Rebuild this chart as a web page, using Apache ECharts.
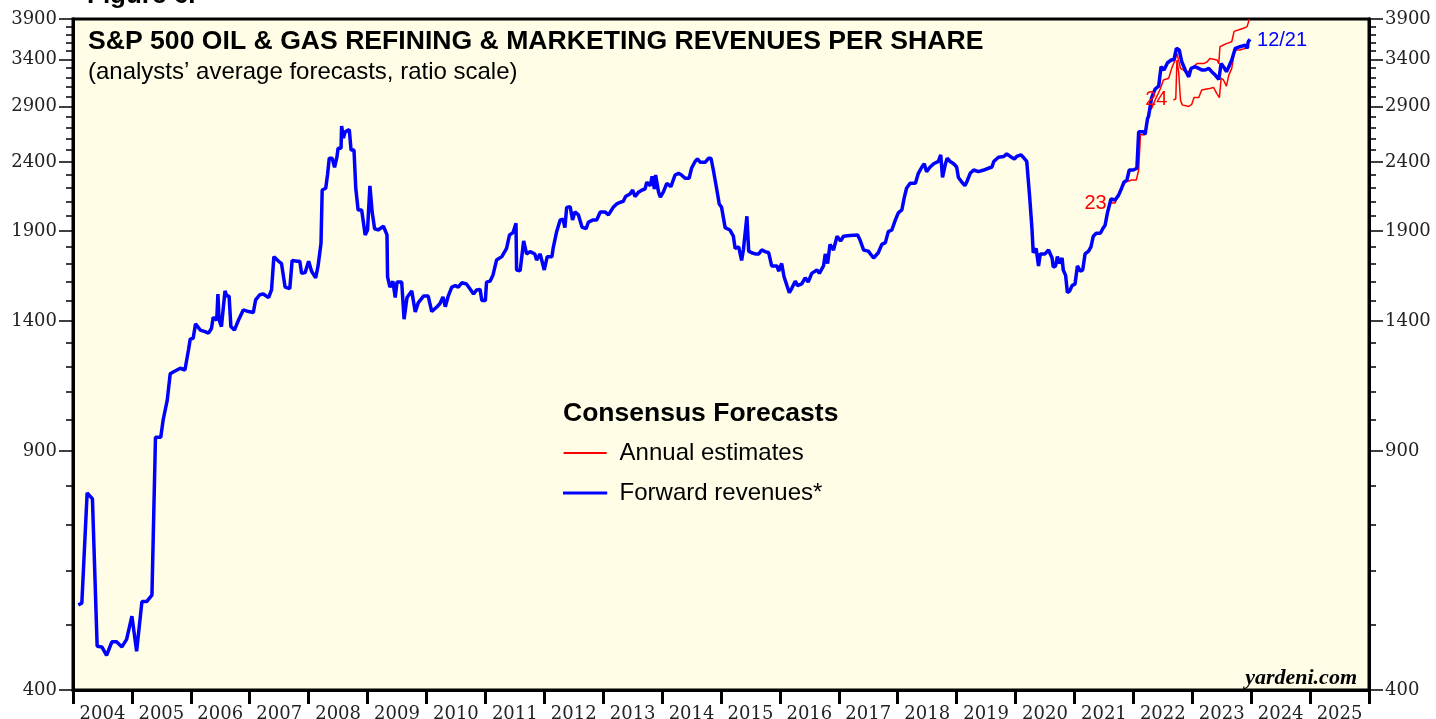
<!DOCTYPE html>
<html lang="en">
<head>
<meta charset="UTF-8">
<title>S&P 500 Oil & Gas Refining & Marketing Revenues Per Share</title>
<script src="https://cdn.jsdelivr.net/npm/echarts@6.0.0/dist/echarts.min.js"></script>
<style>
  html, body { margin: 0; padding: 0; background: #fff; }
  #main { width: 1436px; height: 719px; }
</style>
</head>
<body>
<div id="main"></div>
<script>
// forward revenues (weekly-ish), x = decimal year
var fwdYears = [2004.09,2004.15,2004.24,2004.33,2004.41,2004.49,2004.57,2004.66,2004.74,2004.83,2004.91,2005.00,2005.08,2005.17,2005.25,2005.34,2005.40,2005.49,2005.53,2005.60,2005.65,2005.71,2005.82,2005.90,2005.96,2005.99,
  2006.04,2006.08,2006.16,2006.24,2006.30,2006.35,2006.38,2006.44,2006.46,2006.48,2006.52,2006.58,2006.61,2006.65,2006.68,2006.74,2006.81,2006.89,2006.98,
  2007.06,2007.10,2007.17,2007.23,2007.32,2007.37,2007.41,2007.49,2007.54,2007.60,2007.68,2007.72,2007.80,2007.85,2007.88,2007.94,
  2008.00,2008.05,2008.12,2008.16,2008.21,2008.23,2008.29,2008.32,2008.35,2008.40,2008.44,2008.48,2008.50,2008.55,2008.56,2008.59,2008.62,2008.69,2008.72,2008.77,2008.80,2008.84,2008.90,2008.96,
  2009.00,2009.04,2009.08,2009.12,2009.18,2009.27,2009.33,2009.34,2009.38,2009.43,2009.47,2009.50,2009.58,2009.62,2009.67,2009.75,2009.81,2009.86,2009.95,
  2010.03,2010.09,2010.18,2010.23,2010.28,2010.32,2010.37,2010.43,2010.49,2010.54,2010.60,2010.68,2010.80,2010.85,2010.91,2010.94,
  2011.00,2011.02,2011.08,2011.13,2011.19,2011.28,2011.36,2011.41,2011.47,2011.52,2011.53,2011.59,2011.65,2011.70,2011.76,2011.84,2011.87,2011.93,
  2012.00,2012.05,2012.13,2012.15,2012.21,2012.27,2012.32,2012.35,2012.38,2012.44,2012.48,2012.52,2012.58,2012.64,2012.71,2012.75,2012.83,2012.89,2012.95,
  2013.03,2013.09,2013.17,2013.23,2013.29,2013.34,2013.38,2013.46,2013.50,2013.54,2013.60,2013.66,2013.71,2013.74,2013.80,2013.83,2013.87,2013.89,2013.94,2013.97,
  2014.02,2014.08,2014.15,2014.22,2014.28,2014.33,2014.39,2014.46,2014.50,2014.56,2014.60,2014.65,2014.73,2014.79,2014.83,2014.87,2014.93,2014.97,
  2015.01,2015.07,2015.15,2015.21,2015.24,2015.30,2015.35,2015.38,2015.41,2015.44,2015.47,2015.52,2015.58,2015.64,2015.69,2015.75,2015.81,2015.86,2015.95,2015.98,
  2016.03,2016.07,2016.12,2016.16,2016.20,2016.26,2016.30,2016.37,2016.43,2016.48,2016.54,2016.63,2016.67,2016.74,2016.77,2016.81,2016.85,2016.91,2016.97,
  2017.03,2017.08,2017.19,2017.32,2017.36,2017.42,2017.50,2017.59,2017.67,2017.73,2017.79,2017.84,2017.90,2017.96,
  2018.01,2018.07,2018.11,2018.15,2018.21,2018.30,2018.35,2018.41,2018.45,2018.49,2018.55,2018.61,2018.69,2018.73,2018.76,2018.81,2018.84,2018.89,2018.95,
  2019.00,2019.03,2019.09,2019.14,2019.17,2019.23,2019.29,2019.37,2019.46,2019.54,2019.60,2019.63,2019.71,2019.80,2019.85,2019.91,2019.98,
  2020.02,2020.09,2020.13,2020.19,2020.24,2020.28,2020.30,2020.35,2020.39,2020.42,2020.50,2020.56,2020.62,2020.64,2020.68,2020.71,2020.75,2020.79,2020.81,2020.85,2020.88,2020.92,2020.96,
  2021.01,2021.05,2021.10,2021.14,2021.18,2021.24,2021.28,2021.32,2021.37,2021.44,2021.48,2021.52,2021.56,2021.62,2021.69,2021.75,2021.80,2021.84,2021.89,2021.93,
  2022.00,2022.06,2022.09,2022.17,2022.20,2022.24,2022.26,2022.31,2022.37,2022.43,2022.47,2022.52,2022.58,2022.64,2022.69,2022.73,2022.78,2022.82,2022.88,2022.94,2022.98,
  2023.05,2023.11,2023.16,2023.22,2023.28,2023.33,2023.39,2023.45,2023.49,2023.53,2023.58,2023.62,2023.67,2023.73,2023.81,2023.90,2023.93,2023.95,2023.98];
var fwdRevenues = [534,537,781,765,464,463,450,471,471,463,475,514,456,540,540,552,943,943,1000,1070,1170,1178,1192,1185,1268,1316,
  1320,1386,1357,1350,1343,1364,1417,1404,1533,1404,1373,1550,1523,1523,1373,1357,1404,1453,1445,
  1440,1503,1530,1534,1515,1555,1741,1714,1700,1570,1562,1719,1714,1714,1645,1649,
  1714,1657,1620,1687,1822,2183,2196,2297,2431,2431,2358,2440,2515,2515,2713,2605,2660,2680,2500,2500,2196,2040,2040,1874,
  1906,2213,2020,1914,1906,1930,1874,1626,1570,1602,1515,1597,1597,1408,1515,1550,1443,1488,1523,
  1523,1445,1469,1485,1519,1469,1523,1570,1578,1570,1593,1587,1534,1555,1558,1500,
  1500,1597,1602,1636,1721,1741,1790,1874,1889,1950,1664,1660,1836,1757,1771,1757,1721,1757,
  1664,1741,1741,1790,1895,1972,1976,1921,2058,2062,1972,2026,2006,1925,1914,1958,1972,1972,2026,
  2026,2006,2058,2082,2094,2100,2135,2155,2183,2135,2167,2183,2190,2241,2215,2286,2190,2297,2167,2130,
  2167,2233,2208,2297,2310,2297,2272,2272,2350,2405,2425,2398,2398,2431,2431,2336,2183,2082,
  2058,1921,1906,1866,1790,1800,1719,1781,1781,1997,1774,1764,1757,1757,1781,1771,1764,1687,1687,1657,
  1701,1626,1578,1541,1562,1602,1578,1587,1620,1597,1645,1664,1645,1687,1757,1701,1815,1781,1866,
  1836,1866,1870,1874,1842,1781,1774,1733,1764,1815,1826,1895,1906,1972,
  2020,2040,2125,2196,2233,2233,2310,2360,2386,2323,2360,2386,2405,2460,2278,2386,2431,2405,2386,
  2360,2278,2241,2215,2241,2310,2336,2323,2336,2350,2360,2405,2440,2446,2468,2446,2425,
  2446,2460,2440,2405,2130,1906,1764,1790,1687,1757,1757,1781,1733,1680,1687,1741,1701,1733,1664,1634,1541,1550,1578,
  1587,1687,1657,1664,1757,1774,1800,1866,1885,1885,1914,1937,2020,2117,2110,2145,2196,2241,2258,2336,
  2336,2350,2660,2660,2637,2780,2808,2987,3075,3106,3317,3280,3362,3393,3400,3530,3510,3376,3280,3205,3298,
  3317,3298,3280,3280,3298,3262,3224,3177,3352,3317,3262,3317,3393,3530,3550,3570,3530,3610,3640];

// annual estimates for 2023 and 2024
var est23Years = [2021.58,2021.69,2021.78,2021.86,2021.97,2022.05,2022.09,2022.12,2022.20,2022.26,2022.31,2022.37,2022.46,2022.51,2022.60,2022.65,2022.71,2022.74,2022.80,2022.85,2022.91,2022.99,
  2023.08,2023.19,2023.25,2023.30,2023.42,2023.45,2023.47,2023.53,2023.59,2023.67,2023.71,2023.78,2023.87,2023.93,2023.97];
var est23Values = [2088,2088,2183,2241,2258,2258,2336,2634,2634,2848,2880,2963,3080,3171,3190,3298,3393,3470,3298,3280,3243,3298,
  3352,3352,3370,3410,3393,3352,3550,3570,3590,3610,3740,3757,3780,3800,3900];
var est24Years = [2022.68,2022.72,2022.74,2022.77,2022.80,2022.83,2022.94,2022.99,2023.03,2023.11,2023.16,2023.22,2023.30,2023.36,2023.42,2023.46,2023.49,2023.53,2023.58,2023.62,2023.67,2023.72,2023.81,2023.90,2023.97];
var est24Values = [2963,2975,3393,3250,2960,2914,2898,2918,2987,2987,3065,3072,3080,3092,3025,2987,3190,3171,3106,3224,3298,3510,3510,3530,3550];

var yearTicks = [2004,2005,2006,2007,2008,2009,2010,2011,2012,2013,2014,2015,2016,2017,2018,2019,2020,2021,2022,2023,2024,2025,2026];
var yearLabels = [2004,2005,2006,2007,2008,2009,2010,2011,2012,2013,2014,2015,2016,2017,2018,2019,2020,2021,2022,2023,2024,2025];
var majorTicks = [400,900,1400,1900,2400,2900,3400,3900];
var minorTicks = [400,500,600,700,800,900,1000,1100,1200,1300,1400,1500,1600,1700,1800,1900,2000,2100,2200,2300,2400,
  2500,2600,2700,2800,2900,3000,3100,3200,3300,3400,3500,3600,3700,3800,3900];

function zip(xs, ys) {
  var out = []
  for (var i = 0; i < xs.length; i++) out.push([xs[i], ys[i]])
  return out
}

var sans = 'Liberation Sans, Arial, sans-serif'
var serif = 'DejaVu Serif, serif'

function yAx(pos, ticks, len, labels) {
  return {
    type: 'log', min: 400, max: 3900, position: pos,
    axisLine: {show: true, lineStyle: {color: '#000', width: 3}},
    axisTick: {show: true, length: len, customValues: ticks, lineStyle: {color: '#000', width: 1.5}},
    axisLabel: {
      show: labels, customValues: majorTicks, margin: 16, color: '#222', fontSize: 18, fontFamily: serif,
      formatter: function (v) { return String(Math.round(v)) }
    },
    splitLine: {show: false}
  }
}

var mCharts = echarts.init(document.getElementById('main'))
var option = {
  animation: false,
  backgroundColor: '#fff',
  title: {
    left: 88, top: 28, padding: 0, itemGap: 5,
    text: 'S&P 500 OIL & GAS REFINING & MARKETING REVENUES PER SHARE',
    textStyle: {fontSize: 26.6, fontWeight: 'bold', fontFamily: sans, color: '#000'},
    subtext: '(analysts’ average forecasts, ratio scale)',
    subtextStyle: {fontSize: 24, fontFamily: sans, color: '#000'}
  },
  legend: {
    left: 563, top: 441, padding: 0, orient: 'vertical', selectedMode: false,
    itemWidth: 43, itemHeight: 2, itemGap: 16,
    textStyle: {fontSize: 24, fontFamily: sans, color: '#000', padding: [0, 0, 0, 8]},
    data: [
      {name: 'Annual estimates', icon: 'rect', itemStyle: {color: '#ff0000', borderWidth: 0}},
      {name: 'Forward revenues*', icon: 'rect', itemStyle: {color: '#0000ff', borderColor: '#0000ff', borderWidth: 1.2}}
    ]
  },
  graphic: [
    {type: 'text', left: 87, top: -17, style: {text: 'Figure 6.', font: 'bold 26px ' + sans, fill: '#000'}},
    {type: 'text', left: 563, top: 400, style: {text: 'Consensus Forecasts', font: 'bold 26.5px ' + sans, fill: '#000'}},
    {type: 'text', right: 79, top: 667, style: {text: 'yardeni.com', font: 'italic bold 22px Liberation Serif, serif', fill: '#000'}}
  ],
  grid: {
    left: 73, right: 67, top: 19, bottom: 29, outerBoundsMode: 'none',
    show: true, backgroundColor: '#fffde6', borderColor: '#000', borderWidth: 3
  },
  xAxis: [
    {
      type: 'value', min: 2004, max: 2026, position: 'bottom',
      axisLine: {show: true, onZero: false, lineStyle: {color: '#000', width: 3}},
      axisTick: {show: true, length: 14, customValues: yearTicks, lineStyle: {color: '#000', width: 3}},
      axisLabel: {show: false},
      splitLine: {show: false}
    },
    {
      type: 'value', min: 2004, max: 2026, position: 'bottom',
      axisLine: {show: false}, axisTick: {show: false}, splitLine: {show: false},
      axisLabel: {
        customValues: yearLabels.map(function (y) { return y + 0.5 }),
        formatter: function (v) { return String(Math.floor(v)) },
        margin: 15, color: '#222', fontSize: 18, fontFamily: serif
      }
    }
  ],
  yAxis: [
    yAx('left', majorTicks, 14, true),
    yAx('left', minorTicks, 7, false),
    yAx('right', majorTicks, 14, true),
    yAx('right', minorTicks, 7, false)
  ],
  series: [
    {
      name: 'Annual estimates', type: 'line', symbol: 'none', z: 2,
      data: zip(est23Years, est23Values),
      lineStyle: {color: '#ff0000', width: 1.5}, itemStyle: {color: '#ff0000'},
      markPoint: {
        symbol: 'circle', symbolSize: 0, silent: true,
        label: {show: true, position: 'left', distance: 2, formatter: '23', color: '#ff0000', fontSize: 20, fontFamily: sans},
        data: [{coord: [est23Years[0], est23Values[0]]}]
      }
    },
    {
      name: 'Annual estimates', type: 'line', symbol: 'none', z: 2,
      data: zip(est24Years, est24Values),
      lineStyle: {color: '#ff0000', width: 1.5}, itemStyle: {color: '#ff0000'},
      markPoint: {
        symbol: 'circle', symbolSize: 0, silent: true,
        label: {show: true, position: 'left', distance: 6, formatter: '24', color: '#ff0000', fontSize: 20, fontFamily: sans},
        data: [{coord: [est24Years[0], est24Values[0]]}]
      }
    },
    {
      name: 'Forward revenues*', type: 'line', symbol: 'none', z: 3,
      data: zip(fwdYears, fwdRevenues),
      lineStyle: {color: '#0000ff', width: 3.5}, itemStyle: {color: '#0000ff'},
      endLabel: {show: true, formatter: '12/21', color: '#0000ff', fontSize: 20, fontFamily: sans, distance: 7, offset: [0, 1]}
    }
  ]
}
mCharts.setOption(option)
window.onresize = mCharts.resize
</script>
</body>
</html>
